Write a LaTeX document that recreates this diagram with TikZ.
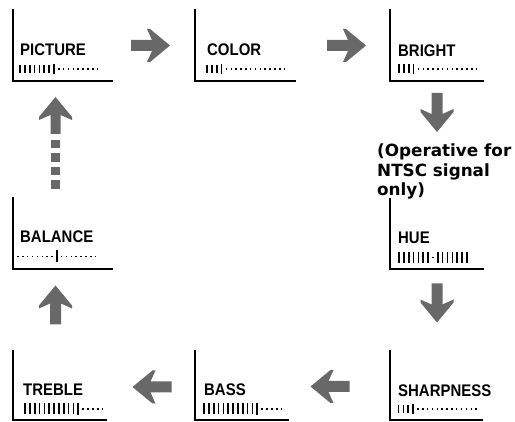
\documentclass[tikz,border=0pt]{standalone}
\usepackage{fontspec}
\newfontfamily\lblfont{Liberation Sans}[FakeStretch=0.89]
\newfontfamily\notefont{DejaVu Sans}
\definecolor{agray}{RGB}{104,104,104}
\newcommand\drawmeter[5]{%
  \foreach \m [count=\i from 0] in {#5}{%
    \pgfmathsetmacro\xx{#1+\i*4.85}%
    \ifcase\m
      \fill (\xx-0.75,#2-0.75) rectangle (\xx+0.75,#2+0.75);
    \or
      \fill (\xx-0.8,#2-#3/2) rectangle (\xx+0.8,#2+#3/2);
    \or
      \fill (\xx-0.9,#2-#4/2) rectangle (\xx+0.9,#2+#4/2);
    \fi
  }}
\tikzset{
  boxn/.style={draw=none, inner sep=0pt, outer sep=0pt, anchor=north west},
  bline/.style={line width=2pt, line join=miter},
  lbl/.style={font=\lblfont\bfseries\fontsize{16.8}{18}\selectfont, inner sep=0pt, anchor=base west},
  note/.style={font=\notefont\bfseries\fontsize{16.8}{19}\selectfont, inner sep=0pt, anchor=base west},
  barrow/.pic={\fill[agray] (-19.5,-5.5) -- (1.5,-5.5) -- (-3.5,-16.5) -- (-0.5,-16.5) -- (19.5,0)
     -- (-0.5,16.5) -- (-3.5,16.5) -- (1.5,5.5) -- (-19.5,5.5) -- cycle;}
}
\begin{document}
\begin{tikzpicture}[x=1pt,y=-1pt]
\useasboundingbox (0,0) rectangle (515,422);

% boxes
\node[boxn, minimum width=100pt, minimum height=72.5pt] (picture) at (13,9) {};
\node[boxn, minimum width=101pt, minimum height=72.5pt] (color) at (195,9) {};
\node[boxn, minimum width=94.5pt, minimum height=72.5pt] (bright) at (389.5,9) {};
\node[boxn, minimum width=100pt, minimum height=72pt] (balance) at (13,197) {};
\node[boxn, minimum width=94.5pt, minimum height=71pt] (hue) at (389.5,198) {};
\node[boxn, minimum width=94pt, minimum height=70.5pt] (treble) at (13,350) {};
\node[boxn, minimum width=94pt, minimum height=70.5pt] (bass) at (195,350) {};
\node[boxn, minimum width=93.5pt, minimum height=70.5pt] (sharp) at (389.5,350) {};
\foreach \b in {picture,color,bright,balance,hue,treble,bass,sharp}
  \draw[bline] (\b.north west) |- (\b.south east);

% labels
\node[lbl] (picture-l) at (20,56) {PICTURE};
\node[lbl] (color-l) at (207,56) {COLOR};
\node[lbl] (bright-l) at (398,56.5) {BRIGHT};
\node[lbl] (balance-l) at (20,243) {BALANCE};
\node[lbl] (hue-l) at (398,244) {HUE};
\node[lbl] (treble-l) at (23,396) {TREBLE};
\node[lbl] (bass-l) at (204,396) {BASS};
\node[lbl] (sharp-l) at (398,396.5) {SHARPNESS};

% meters
\drawmeter{20}{69}{7.5}{9.5}{1,1,1,1,1,1,1,2,0,0,0,0,0,0,0,0,0}
\drawmeter{207}{69}{8}{10}{1,1,1,2,0,0,0,0,0,0,0,0,0,0,0,0,0}
\drawmeter{399}{69}{9}{10.5}{1,1,1,2,0,0,0,0,0,0,0,0,0,0,0,0,0}
\drawmeter{18}{256.5}{9}{12}{0,0,0,0,0,0,0,0,2,0,0,0,0,0,0,0,0}
\drawmeter{399}{257.5}{11.5}{11.5}{1,1,1,1,1,1,1,0,1,1,1,1,1,1,1}
\drawmeter{25}{409}{11}{12}{1,1,1,1,1,1,1,1,1,1,1,2,0,0,0,0,0}
\drawmeter{204}{409}{11}{12}{1,1,1,1,1,1,1,1,1,1,1,2,0,0,0,0,0}
\drawmeter{398.5}{409}{8.5}{10}{1,1,1,2,0,0,0,0,0,0,0,0,0,0,0,0,0}

% note
\node[note] (note1) at (377,157) {(Operative for};
\node[note] (note2) at (377,177) {NTSC signal};
\node[note] (note3) at (377,196) {only)};

% arrows
\pic at (150.5,45.5) {barrow};
\pic at (346.5,45.5) {barrow};
\pic[rotate=-90] at (437,112.5) {barrow};
\pic[rotate=-90] at (437,303) {barrow};
\pic[rotate=180] at (330,386.5) {barrow};
\pic[rotate=180] at (152,387) {barrow};
\pic[rotate=90] at (55.5,305) {barrow};

% dashed up arrow
\fill[agray] (55.5,97) -- (72,117) -- (72,120) -- (60.5,115) -- (60.5,134) -- (50.5,134)
  -- (50.5,115) -- (39,120) -- (39,117) -- cycle;
\foreach \yy in {140,153.5,167,180.5}
  \fill[agray] (51,\yy) rectangle (60,\yy+8.5);
\end{tikzpicture}
\end{document}
